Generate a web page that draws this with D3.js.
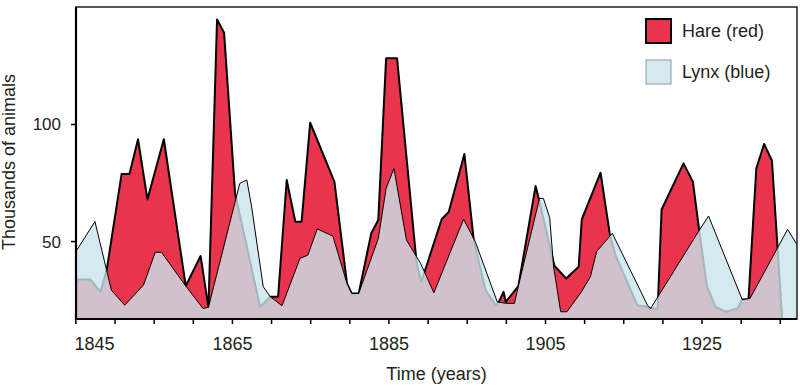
<!DOCTYPE html>
<html lang="en">
<head>
<meta charset="utf-8">
<title>Hare and lynx populations</title>
<script src="https://d3js.org/d3.v7.min.js"></script>
<style>
  body { margin: 0; background: #fff; }
  text { font-family: "Liberation Sans", Arial, sans-serif; fill: #231f20; }
</style>
</head>
<body>
<script>
// values (thousands of animals)
const hareYears = [1845, 1846.9, 1848.2, 1849.0, 1850.9, 1851.9, 1853.0, 1854.2, 1856.3, 1859.1, 1861.0, 1862.0, 1863.1, 1864.0, 1865.4, 1868.6, 1869.9, 1870.9, 1872.0, 1873.1, 1873.9, 1875.0, 1878.1, 1879.7, 1880.3, 1881.2, 1882.8, 1883.7, 1884.7, 1886.1, 1888.6, 1889.2, 1891.8, 1892.7, 1894.7, 1895.9, 1897.4, 1898.7, 1899.1, 1899.7, 1900.0, 1901.6, 1903.8, 1904.3, 1906.2, 1907.7, 1909.3, 1909.7, 1912.1, 1913.3, 1914.0, 1916.8, 1918.1, 1918.3, 1919.4, 1919.9, 1922.7, 1923.9, 1924.7, 1925.7, 1926.8, 1928.1, 1929.6, 1930.2, 1931.0, 1932.0, 1933.0, 1934.0, 1935.3];
const hareValues = [33.6, 33.6, 28.3, 37.6, 78.6, 78.6, 93.5, 67.8, 93.5, 30.8, 43.6, 21.7, 144.7, 139.0, 70.4, 21.9, 26.2, 26.2, 76.1, 58.3, 58.3, 100.6, 75.3, 31.9, 27.6, 27.6, 53.3, 59.0, 128.1, 128.1, 40.5, 32.6, 59.3, 62.4, 87.2, 50.4, 29.1, 22.6, 24.0, 28.3, 24.0, 30.8, 73.5, 66.8, 39.5, 34.0, 39.0, 59.3, 79.2, 52.6, 44.0, 22.6, 21.9, 21.2, 21.2, 63.5, 83.2, 75.3, 54.7, 30.5, 21.9, 19.8, 21.2, 25.0, 25.0, 81.0, 91.5, 84.3, 16.7];

const lynxYears = [1845, 1847.5, 1849.6, 1851.3, 1853.7, 1855.2, 1856.0, 1859.1, 1861.3, 1862.0, 1866.0, 1866.9, 1867.5, 1869.0, 1869.9, 1871.4, 1873.7, 1874.7, 1875.9, 1877.9, 1879.7, 1880.3, 1881.2, 1883.7, 1884.7, 1885.7, 1887.3, 1889.1, 1890.8, 1894.6, 1896.1, 1898.9, 1900.0, 1901.1, 1901.6, 1904.3, 1904.8, 1905.6, 1906.1, 1907.0, 1907.8, 1909.6, 1910.8, 1911.6, 1913.6, 1918.1, 1918.5, 1924.6, 1925.9, 1930.2, 1931.2, 1936.0, 1937.2];
const lynxValues = [45.2, 58.3, 29.0, 22.6, 31.2, 45.2, 45.2, 30.8, 21.2, 21.7, 74.6, 76.1, 65.0, 30.5, 26.2, 22.4, 42.6, 44.0, 55.2, 52.1, 31.9, 27.6, 27.6, 51.1, 72.5, 81.0, 50.4, 40.5, 27.9, 59.3, 49.7, 24.0, 23.4, 23.4, 30.8, 68.2, 68.2, 60.0, 39.0, 19.8, 19.8, 28.0, 34.7, 45.5, 53.3, 22.6, 21.2, 54.0, 60.7, 25.0, 25.5, 55.0, 48.5];

const xTicks = d3.range(1845, 1936, 5),
      xLabelYears = [1845, 1865, 1885, 1905, 1925],
      yTicks = [50, 100],
      legendLabels = ["Hare (red)", "Lynx (blue)"];

const width = 800, height = 386,
      plotLeft = 76, plotRight = 797, plotTop = 7, plotBottom = 319,
      red = "#e8344c", lynxFill = "rgb(201,229,236)";

const x = d3.scaleLinear().domain([1845, 1937.2]).range([75.4, plotRight]),
      y = d3.scaleLinear().domain([16.7, 150]).range([plotBottom, plotTop]);

const hare = hareYears.map((d, i) => [d, hareValues[i]]),
      lynx = lynxYears.map((d, i) => [d, lynxValues[i]]);

const svg = d3.select("body").append("svg")
    .attr("width", width)
    .attr("height", height);

svg.append("clipPath").attr("id", "plot")
  .append("rect")
    .attr("x", plotLeft).attr("y", plotTop)
    .attr("width", plotRight - plotLeft).attr("height", plotBottom - plotTop);

const area = d3.area().x(d => x(d[0])).y0(plotBottom).y1(d => y(d[1])),
      line = d3.line().x(d => x(d[0])).y(d => y(d[1]));

const g = svg.append("g").attr("clip-path", "url(#plot)");

g.append("path").datum(hare)
    .attr("d", area)
    .attr("fill", red);
g.append("path").datum(hare)
    .attr("d", line)
    .attr("fill", "none")
    .attr("stroke", "#000")
    .attr("stroke-width", 2)
    .attr("stroke-linejoin", "round");

// lynx sits on top, partly see-through so the overlap turns mauve
g.append("path").datum(lynx)
    .attr("d", area)
    .attr("fill", lynxFill)
    .attr("fill-opacity", 0.8);
g.append("path").datum(lynx)
    .attr("d", line)
    .attr("fill", "none")
    .attr("stroke", "#000")
    .attr("stroke-width", 1);

// frame
svg.append("rect")
    .attr("x", plotLeft).attr("y", plotTop)
    .attr("width", plotRight - plotLeft).attr("height", plotBottom - plotTop)
    .attr("fill", "none")
    .attr("stroke", "#222")
    .attr("stroke-width", 1.5);
svg.append("path")
    .attr("d", `M${plotLeft},${plotTop}V${plotBottom}H${plotRight}`)
    .attr("fill", "none")
    .attr("stroke", "#000")
    .attr("stroke-width", 2.2);

// x axis
const xAxis = svg.append("g")
    .attr("transform", `translate(0,${plotBottom})`)
    .call(d3.axisBottom(x)
      .tickValues(xTicks)
      .tickSize(5)
      .tickFormat(d => xLabelYears.includes(d) ? d : ""));
xAxis.select(".domain").remove();
xAxis.selectAll("line").attr("stroke", "#000").attr("stroke-width", 1.5);
xAxis.selectAll("text")
    .attr("y", 31).attr("dy", 0)
    .attr("fill", "#231f20")
    .style("font-size", "18px");
xAxis.attr("font-family", null).attr("font-size", null);
xAxis.selectAll(".tick").filter(d => d === 1845).select("text")
    .attr("text-anchor", "start").attr("x", -1.5);

// y axis
const yAxis = svg.append("g")
    .attr("transform", `translate(${plotLeft},0)`)
    .call(d3.axisLeft(y).tickValues(yTicks).tickSize(5));
yAxis.select(".domain").remove();
yAxis.attr("font-family", null).attr("font-size", null);
yAxis.selectAll("line").attr("stroke", "#000").attr("stroke-width", 1.5);
yAxis.selectAll("text")
    .attr("x", -15).attr("dy", "0.35em")
    .attr("fill", "#231f20")
    .style("font-size", "17px");

svg.append("text")
    .attr("x", (plotLeft + plotRight) / 2).attr("y", 380)
    .attr("text-anchor", "middle")
    .style("font-size", "18px")
    .text("Time (years)");

svg.append("text")
    .attr("transform", "translate(15,162) rotate(-90)")
    .attr("text-anchor", "middle")
    .style("font-size", "18px")
    .text("Thousands of animals");

// legend
const legend = svg.append("g").attr("transform", "translate(646,19)");
const item = legend.selectAll("g").data(legendLabels).join("g")
    .attr("transform", (d, i) => `translate(0,${i * 41})`);
item.append("rect")
    .attr("width", 25).attr("height", 24)
    .attr("fill", (d, i) => i === 0 ? red : "#d5e9ef")
    .attr("stroke", (d, i) => i === 0 ? "#000" : "#8c9da3")
    .attr("stroke-width", (d, i) => i === 0 ? 2 : 1);
item.append("text")
    .attr("x", 36).attr("y", 18)
    .style("font-size", "18px")
    .text(d => d);
</script>
</body>
</html>
